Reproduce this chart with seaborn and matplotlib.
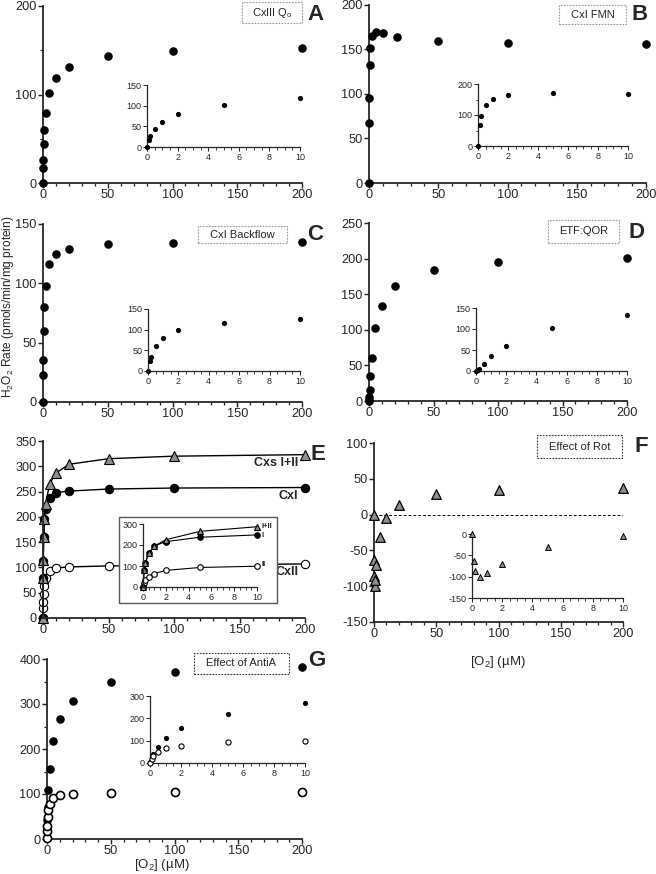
import matplotlib
matplotlib.use('Agg')
import matplotlib.pyplot as plt
from matplotlib.patches import Rectangle
from matplotlib.ticker import MultipleLocator
import seaborn as sns

# O2 concentrations (uM), shared by every panel
o2 = [0, 0.1, 0.2, 0.5, 1, 2, 5, 10, 20, 50, 100, 200]

# H2O2 rates (pmols/min/mg protein)
cxiii_qo = [0, 17, 26, 44, 60, 79, 102, 119, 131, 143, 149, 152]
cxi_fmn = [0, 67, 96, 133, 152, 165, 170, 168, 164, 160, 157, 156]
cxi_backflow = [0, 23, 35, 60, 80, 98, 116, 125, 129, 133, 134, 135]
etf_qor = [0, 2, 5, 16, 35, 60, 102, 134, 161, 184, 195, 201]
cx_i_ii = [0, 80, 114, 161, 195, 225, 265, 287, 304, 315, 320, 323]
cx_i = [0, 80, 113, 160, 196, 216, 237, 248, 251, 255, 257, 258]
cx_ii = [0, 19, 31, 48, 64, 79, 93, 99, 101, 103, 104, 107]
effect_rot = [0, -63, -86, -100, -92, -70, -31, -5, 14, 29, 35, 37]
antia_filled = [3, 25, 42, 71, 110, 156, 218, 267, 307, 350, 372, 383]
antia_open = [2, 18, 30, 48, 65, 78, 92, 98, 101, 103, 105, 105]

GRAY = '#8f8f8f'

sns.set_style('ticks')
plt.rcParams['font.family'] = ['Liberation Sans', 'DejaVu Sans']
plt.rcParams['mathtext.fontset'] = 'custom'
plt.rcParams['mathtext.rm'] = 'Liberation Sans'
plt.rcParams['mathtext.default'] = 'regular'
plt.rcParams['axes.unicode_minus'] = False

W, H = 656, 874
fig = plt.figure(figsize=(W / 100, H / 100), dpi=100)


def add_ax(x0, x1, y0, y1, z=1):
    ax = fig.add_axes([x0 / W, 1 - y1 / H, (x1 - x0) / W, (y1 - y0) / H])
    ax.set_zorder(z)
    ax.patch.set_alpha(0)
    return ax


def style(ax, xlim, ylim, ymaj, ymin=None, inset=False):
    ax.set_xlim(xlim)
    ax.set_ylim(ylim)
    if inset:
        ax.xaxis.set_major_locator(MultipleLocator(2))
        ax.xaxis.set_minor_locator(MultipleLocator(0.5))
    else:
        ax.xaxis.set_major_locator(MultipleLocator(50))
        ax.xaxis.set_minor_locator(MultipleLocator(10))
    ax.yaxis.set_major_locator(MultipleLocator(ymaj))
    if ymin:
        ax.yaxis.set_minor_locator(MultipleLocator(ymin))
    sns.despine(ax=ax)
    lw = 0.9 if inset else 1.3
    for sp in ['left', 'bottom']:
        ax.spines[sp].set_linewidth(lw)
    ax.tick_params(which='major', length=3 if inset else 3.5, width=lw * 0.8,
                   labelsize=6.5 if inset else 9.2, pad=1)
    ax.tick_params(which='minor', length=1.8 if inset else 2.3, width=lw * 0.7)
    ax.set_xlabel('')
    ax.set_ylabel('')


def dots(ax, y, s, marker='o', fc='black', lw=0.0, xmax=200):
    xs = [a for a in o2 if a <= xmax]
    sns.scatterplot(x=xs, y=y[:len(xs)], ax=ax, marker=marker, s=s, color=fc,
                    edgecolor='black', linewidth=lw, clip_on=False, zorder=3)


def curve(ax, y, marker, fc, ms, xmax=200, lw=1.0):
    xs = [a for a in o2 if a <= xmax]
    sns.lineplot(x=xs, y=y[:len(xs)], ax=ax, color='black', lw=lw, marker=marker,
                 markersize=ms, markerfacecolor=fc, markeredgecolor='black',
                 markeredgewidth=0.8, errorbar=None, clip_on=False)


def tag(x0, x1, y0, y1, text, ec='#999999'):
    fig.add_artist(Rectangle((x0 / W, 1 - y1 / H), (x1 - x0) / W, (y1 - y0) / H,
                             transform=fig.transFigure, fc='white', ec=ec,
                             lw=0.8, ls=(0, (1.5, 1.2)), zorder=5))
    fig.text((x0 + x1) / 2 / W, 1 - (y0 + y1) / 2 / H, text, ha='center',
             va='center', fontsize=8, zorder=6)


def letter(x, y, s):
    fig.text(x / W, 1 - y / H, s, ha='center', va='center', fontsize=16,
             fontweight='bold', zorder=6)


MAIN_S, INS_S = 38, 14

# A
ax = add_ax(43, 302, 6, 183)
dots(ax, cxiii_qo, MAIN_S)
style(ax, (0, 200), (0, 200), 100, 50)
ax = add_ax(147, 300, 85, 147, 2)
dots(ax, cxiii_qo, INS_S, xmax=10)
style(ax, (0, 10), (0, 150), 50, inset=True)
tag(242, 302, 2, 23, r'CxIII Q$_o$')
letter(316, 15, 'A')

# B
ax = add_ax(369, 646, 5, 183)
dots(ax, cxi_fmn, MAIN_S)
style(ax, (0, 200), (0, 200), 50)
ax = add_ax(478, 628, 84, 146, 2)
dots(ax, cxi_fmn, INS_S, xmax=10)
style(ax, (0, 10), (0, 200), 100, 50, inset=True)
tag(559, 626, 5, 24, 'CxI FMN')
letter(640, 15, 'B')

# C
ax = add_ax(43, 302, 224, 402)
dots(ax, cxi_backflow, MAIN_S)
style(ax, (0, 200), (0, 150), 50)
ax = add_ax(148, 300, 309, 371, 2)
dots(ax, cxi_backflow, INS_S, xmax=10)
style(ax, (0, 10), (0, 150), 50, inset=True)
tag(198, 287, 226, 243, 'CxI Backflow')
letter(315, 234, 'C')

# D
ax = add_ax(369, 627, 223, 401)
dots(ax, etf_qor, MAIN_S)
style(ax, (0, 200), (0, 250), 50)
ax = add_ax(476, 627, 308, 371, 2)
dots(ax, etf_qor, INS_S, xmax=10)
style(ax, (0, 10), (0, 150), 50, inset=True)
tag(548, 619, 220, 243, 'ETF:QOR')
letter(637, 232, 'D')

# E
ax = add_ax(43, 305, 441, 618)
curve(ax, cx_ii, 'o', 'white', 6.0)
curve(ax, cx_i, 'o', 'black', 6.0)
curve(ax, cx_i_ii, '^', GRAY, 7.0)
style(ax, (0, 200), (0, 350), 50)
ax.text(195, 318, 'Cxs I+II', ha='right', va='top', fontsize=9, fontweight='bold')
ax.text(195, 254, 'CxI', ha='right', va='top', fontsize=9, fontweight='bold')
ax.text(195, 103, 'CxII', ha='right', va='top', fontsize=9, fontweight='bold')
fig.add_artist(Rectangle((119 / W, 1 - 603 / H), (277 - 119) / W, (603 - 517) / H,
                         transform=fig.transFigure, fc='white', ec='#555555',
                         lw=1.0, zorder=1.5))
ax = add_ax(143, 257, 524, 587, 2)
curve(ax, cx_ii, 'o', 'white', 4.0, xmax=10, lw=0.8)
curve(ax, cx_i, 'o', 'black', 4.0, xmax=10, lw=0.8)
curve(ax, cx_i_ii, '^', GRAY, 4.5, xmax=10, lw=0.8)
style(ax, (0, 10), (0, 300), 100, inset=True)
for lab, yv in [('I+II', 289), ('I', 246), ('II', 105)]:
    ax.text(10.4, yv, lab, ha='left', va='center', fontsize=5.5,
            fontweight='bold', clip_on=False)
letter(318, 454, 'E')

# F
ax = add_ax(374, 623, 443, 622)
ax.axhline(0, color='black', lw=0.7, ls=(0, (3, 2)), zorder=1)
dots(ax, effect_rot, 48, marker='^', fc=GRAY, lw=0.9)
style(ax, (0, 200), (-150, 100), 50)
ax = add_ax(472, 623, 534, 598, 2)
dots(ax, effect_rot, 18, marker='^', fc=GRAY, lw=0.7, xmax=10)
style(ax, (0, 10), (-150, 0), 50, inset=True)
tag(537, 622, 435, 458, 'Effect of Rot', ec='#333333')
letter(641, 447, 'F')
fig.text(498 / W, 1 - 662 / H, '[O$_2$] (µM)', ha='center', va='center',
         fontsize=9.5)

# G
ax = add_ax(47, 302, 659, 839)
dots(ax, antia_filled, MAIN_S)
dots(ax, antia_open, MAIN_S - 4, fc='white', lw=1.2)
style(ax, (0, 200), (0, 400), 100, 50)
ax = add_ax(150, 305, 696, 763, 2)
dots(ax, antia_filled, INS_S, xmax=10)
dots(ax, antia_open, INS_S, fc='white', lw=0.8, xmax=10)
style(ax, (0, 10), (0, 300), 100, inset=True)
tag(194, 289, 653, 674, 'Effect of AntiA', ec='#333333')
letter(317, 661, 'G')
fig.text(162 / W, 1 - 865 / H, '[O$_2$] (µM)', ha='center', va='center',
         fontsize=9.5)

fig.text(8 / W, 1 - 307 / H, r'H$_2$O$_2$ Rate (pmols/min/mg protein)',
         rotation=90, ha='center', va='center', fontsize=8.6)

fig.savefig('out.png', dpi=100)
